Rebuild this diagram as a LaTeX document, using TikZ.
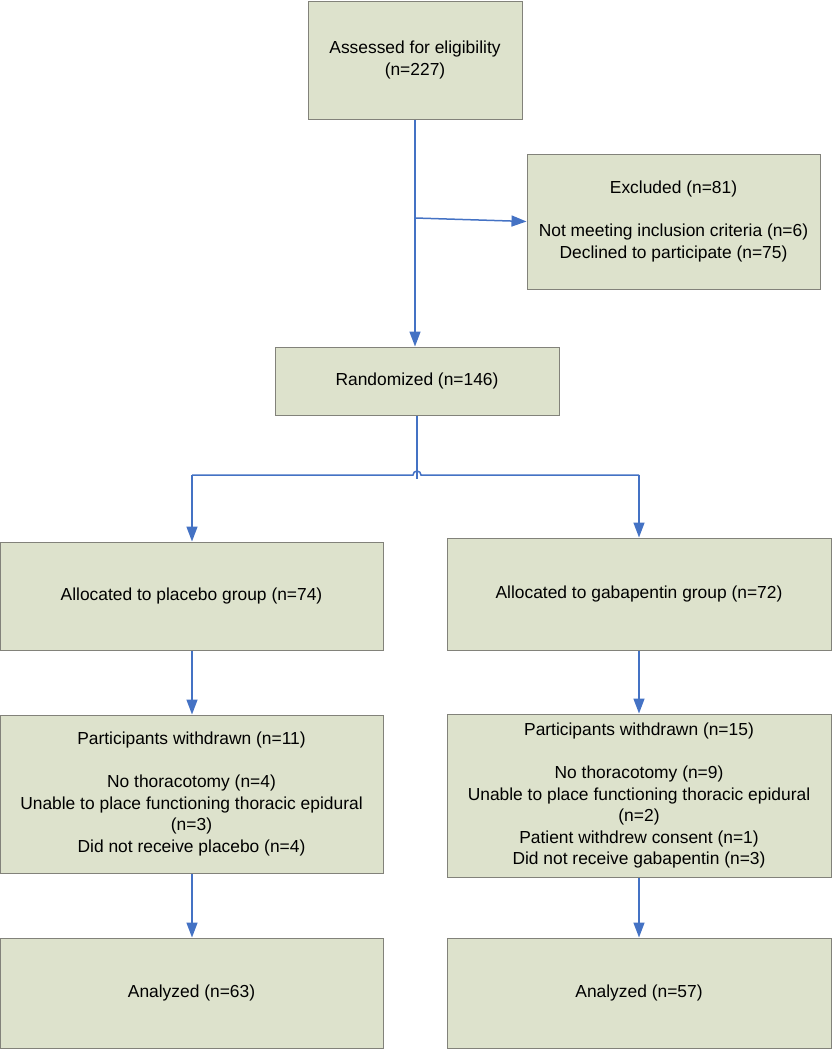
\documentclass[tikz,border=0pt]{standalone}
\usepackage{fontspec}
\setmainfont{Liberation Sans}
\usepackage{tikz}
\usetikzlibrary{arrows.meta}
\definecolor{bx}{RGB}{221, 226, 204}
\definecolor{bd}{RGB}{130, 130, 122}
\definecolor{ar}{RGB}{68, 114, 196}

\begin{document}
\begin{tikzpicture}[box/.style={rectangle, fill=bx, draw=bd, line width=1pt, inner sep=0pt, align=center, font=\fontsize{17.4}{21.5}\selectfont},
link/.style={line width=1.5pt, color=ar},
flow/.style={link, -{Triangle[width=11pt, length=15pt]}}]
\useasboundingbox (0pt, 0pt) rectangle (831pt, -1050pt);
\node (1) [box, minimum width=214pt, minimum height=118pt] at (415.0pt, -60.0pt) {Assessed for eligibility\\(n=227)};
\node (2) [box, minimum width=293pt, minimum height=135pt] at (673.5pt, -221.5pt) {Excluded (n=81)\\[21.5pt]Not meeting inclusion criteria (n=6)\\Declined to participate (n=75)};
\node (3) [box, minimum width=284pt, minimum height=68pt] at (417.0pt, -381.0pt) {Randomized (n=146)};
\node (4) [box, minimum width=383pt, minimum height=108pt] at (191.5pt, -596.0pt) {Allocated to placebo group (n=74)};
\node (5) [box, minimum width=384pt, minimum height=112pt] at (639.0pt, -594.0pt) {Allocated to gabapentin group (n=72)};
\node (6) [box, minimum width=383pt, minimum height=158pt] at (191.5pt, -794.0pt) {Participants withdrawn (n=11)\\[21.5pt]No thoracotomy (n=4)\\Unable to place functioning thoracic epidural\\(n=3)\\Did not receive placebo (n=4)};
\node (7) [box, minimum width=384pt, minimum height=163pt] at (639.0pt, -795.5pt) {Participants withdrawn (n=15)\\[21.5pt]No thoracotomy (n=9)\\Unable to place functioning thoracic epidural\\(n=2)\\Patient withdrew consent (n=1)\\Did not receive gabapentin (n=3)};
\node (8) [box, minimum width=383pt, minimum height=110pt] at (191.5pt, -993.0pt) {Analyzed (n=63)};
\node (9) [box, minimum width=384pt, minimum height=110pt] at (639.0pt, -993.0pt) {Analyzed (n=57)};
\coordinate (e) at (415.0pt, -218.0pt);
\coordinate (bl) at (192.0pt, -475.0pt);
\coordinate (br) at (639.0pt, -475.0pt);
\draw [flow] (1.south) -- (1.south |- 3.north);
\draw [flow] (e) -- (2.west);
\draw [link] (3.south) -- (417.0pt, -479.0pt);
\draw [link] (bl) -- (413.0pt, -475.0pt) arc[start angle=180, end angle=0, radius=4pt] -- (br);
\draw [flow] (bl) -- (bl |- 4.north);
\draw [flow] (br) -- (5.north);
\draw [flow] ([xshift=0.5pt]4.south) -- ([xshift=0.5pt]6.north);
\draw [flow] (5.south) -- (7.north);
\draw [flow] ([xshift=0.5pt]6.south) -- ([xshift=0.5pt]8.north);
\draw [flow] (7.south) -- (9.north);
\end{tikzpicture}
\end{document}
